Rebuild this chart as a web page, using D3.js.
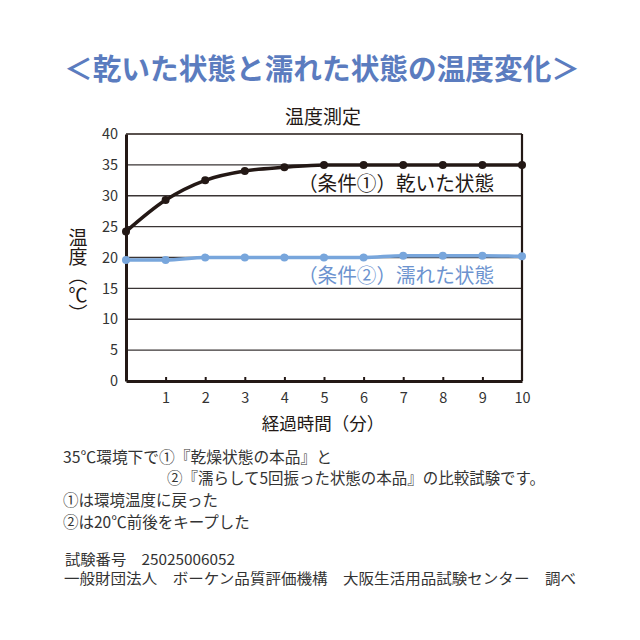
<!DOCTYPE html>
<html>
<head>
<meta charset="utf-8">
<script src="https://cdn.jsdelivr.net/npm/d3@7"></script>
<style>
  body { margin: 0; background: #fff; }
  svg text { font-family: "Noto Sans CJK JP", "Noto Sans", sans-serif; }
</style>
</head>
<body>
<div id="chart"></div>
<script>
// data
const minutes = [0, 1, 2, 3, 4, 5, 6, 7, 8, 9, 10];
const dryTemps = [24.2, 29.3, 32.5, 34.0, 34.6, 35.0, 35.0, 35.0, 35.0, 35.0, 35.0];
const wetTemps = [19.6, 19.6, 20.0, 20.0, 20.0, 20.0, 20.0, 20.3, 20.3, 20.3, 20.2];
const yTicks = [0, 5, 10, 15, 20, 25, 30, 35, 40];
const xTicks = [1, 2, 3, 4, 5, 6, 7, 8, 9, 10];
const notes = [
    '35℃環境下で①『乾燥状態の本品』と',
    '②『濡らして5回振った状態の本品』の比較試験です。',
    '①は環境温度に戻った',
    '②は20℃前後をキープした'
];
const credits = [
    '試験番号　25025006052',
    '一般財団法人　ボーケン品質評価機構　大阪生活用品試験センター　調べ'
];

const W = 640, H = 640;
const dark = '#231815';
const blue = '#78a6dc';

const svg = d3.select('#chart').append('svg')
    .attr('width', W)
    .attr('height', H);

// headline
svg.append('text')
    .attr('x', 64).attr('y', 80)
    .attr('font-size', 29)
    .attr('font-weight', 'bold')
    .attr('fill', '#5b7cbf')
    .attr('textLength', 516)
    .attr('lengthAdjust', 'spacingAndGlyphs')
    .text('＜乾いた状態と濡れた状態の温度変化＞');

const x = d3.scaleLinear().domain([0, 10]).range([126, 522]);
const y = d3.scaleLinear().domain([0, 40]).range([381, 134]);

// chart title
svg.append('text')
    .attr('x', 323).attr('y', 124)
    .attr('text-anchor', 'middle')
    .attr('font-size', 19)
    .attr('fill', dark)
    .text('温度測定');

// gridlines
svg.append('g')
    .selectAll('line')
    .data(yTicks.filter(d => d > 0 && d < 40))
    .join('line')
    .attr('x1', x(0)).attr('x2', x(10))
    .attr('y1', d => y(d)).attr('y2', d => y(d))
    .attr('stroke', '#3a3434')
    .attr('stroke-width', 1.4);

// frame: top and right thinner
svg.append('line')
    .attr('x1', x(0)).attr('x2', x(10))
    .attr('y1', y(40)).attr('y2', y(40))
    .attr('stroke', dark).attr('stroke-width', 1.6);
svg.append('line')
    .attr('x1', x(10)).attr('x2', x(10))
    .attr('y1', y(40)).attr('y2', y(0))
    .attr('stroke', dark).attr('stroke-width', 2.2);

// y axis
const yAxis = d3.axisLeft(y).tickValues(yTicks).tickSize(0).tickPadding(8);
const yAxisG = svg.append('g')
    .attr('transform', `translate(${x(0)},0)`)
    .call(yAxis);
yAxisG.select('.domain').attr('stroke', dark).attr('stroke-width', 3);
yAxisG.selectAll('text')
    .attr('font-size', 14.5)
    .attr('fill', '#333')
    .attr('font-family', '"Open Sans", "Noto Sans", sans-serif');

// x axis, ticks pointing inwards
const xAxis = d3.axisBottom(x).tickValues(xTicks).tickSizeInner(-4).tickSizeOuter(0).tickPadding(12);
const xAxisG = svg.append('g')
    .attr('transform', `translate(0,${y(0)})`)
    .call(xAxis);
xAxisG.select('.domain').attr('stroke', dark).attr('stroke-width', 3);
xAxisG.selectAll('.tick line').attr('stroke', dark).attr('stroke-width', 2);
xAxisG.selectAll('.tick').filter(d => d === 10).select('line').remove();
xAxisG.selectAll('text')
    .attr('font-size', 14.5)
    .attr('fill', '#333')
    .attr('font-family', '"Open Sans", "Noto Sans", sans-serif');

// axis titles
svg.append('text')
    .attr('x', 323).attr('y', 430)
    .attr('text-anchor', 'middle')
    .attr('font-size', 17.5)
    .attr('fill', dark)
    .text('経過時間（分）');

svg.append('text')
    .attr('transform', 'translate(78,228)')
    .attr('font-size', 19)
    .attr('fill', dark)
    .style('writing-mode', 'vertical-rl')
    .attr('text-anchor', 'start')
    .text('温度（℃）');

// lines
const line = d3.line()
    .x((d, i) => x(minutes[i]))
    .y(d => y(d))
    .curve(d3.curveMonotoneX);

const series = [
    { values: wetTemps, color: blue },
    { values: dryTemps, color: dark }
];

series.forEach(s => {
    svg.append('path')
        .datum(s.values)
        .attr('d', line)
        .attr('fill', 'none')
        .attr('stroke', s.color)
        .attr('stroke-width', 3.5);
    svg.append('g')
        .selectAll('circle')
        .data(s.values)
        .join('circle')
        .attr('cx', (d, i) => x(minutes[i]))
        .attr('cy', d => y(d))
        .attr('r', 4)
        .attr('fill', s.color);
});

// series labels
svg.append('text')
    .attr('x', 298).attr('y', 191)
    .attr('font-size', 20)
    .attr('fill', dark)
    .attr('textLength', 196)
    .attr('lengthAdjust', 'spacingAndGlyphs')
    .text('（条件①）乾いた状態');
svg.append('text')
    .attr('x', 298).attr('y', 283)
    .attr('font-size', 20)
    .attr('fill', '#6c93cf')
    .attr('textLength', 196)
    .attr('lengthAdjust', 'spacingAndGlyphs')
    .text('（条件②）濡れた状態');

// notes under chart
const noteLayout = [
    { x: 63, y: 463, len: 269 },
    { x: 167, y: 484, len: 378 },
    { x: 63, y: 506, len: null },
    { x: 63, y: 528, len: null }
];
notes.forEach((t, i) => {
    const el = svg.append('text')
        .attr('x', noteLayout[i].x).attr('y', noteLayout[i].y)
        .attr('font-size', 15.5)
        .attr('fill', '#333')
        .text(t);
    if (noteLayout[i].len) {
        el.attr('textLength', noteLayout[i].len).attr('lengthAdjust', 'spacingAndGlyphs');
    }
});

const creditLayout = [
    { x: 65, y: 565, len: 170 },
    { x: 64, y: 584, len: 512 }
];
credits.forEach((t, i) => {
    svg.append('text')
        .attr('x', creditLayout[i].x).attr('y', creditLayout[i].y)
        .attr('font-size', 14.5)
        .attr('fill', '#333')
        .attr('textLength', creditLayout[i].len)
        .attr('lengthAdjust', 'spacingAndGlyphs')
        .text(t);
});
</script>
</body>
</html>
